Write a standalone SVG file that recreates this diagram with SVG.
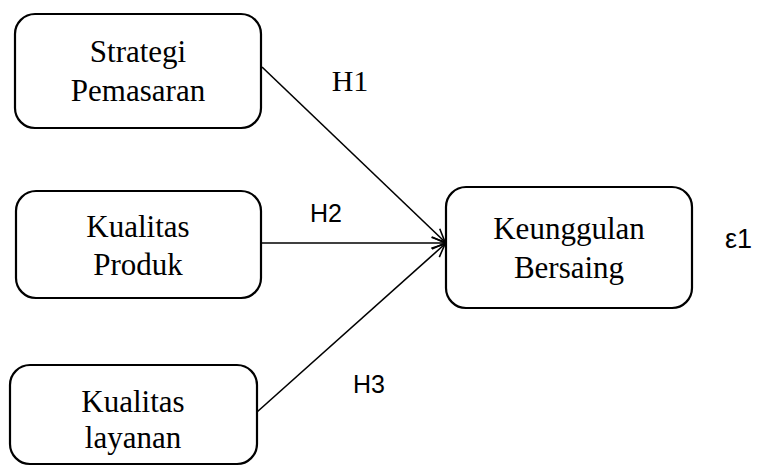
<svg xmlns="http://www.w3.org/2000/svg" width="757" height="466" viewBox="0 0 757 466">
<style>
.box{fill:#fff;stroke:#000;stroke-width:2.2}
.t{font-family:"Liberation Serif","Times New Roman",serif;font-size:31px;fill:#000;text-anchor:middle}
.s{font-family:"Liberation Sans",Arial,sans-serif;font-size:25px;fill:#000}
.c{stroke:#000;stroke-width:1.6;fill:none}
</style>
<defs>
<marker id="arr" markerWidth="16" markerHeight="16" refX="14" refY="8" orient="auto" markerUnits="userSpaceOnUse">
<path d="M1,2 L14,8 L1,14" fill="none" stroke="#000" stroke-width="1.6"/>
</marker>
</defs>
<rect width="757" height="466" fill="#fff"/>
<g id="connectors">
<line class="c" x1="262" y1="67" x2="445" y2="242" marker-end="url(#arr)"/>
<line class="c" x1="261" y1="243" x2="445" y2="243" marker-end="url(#arr)"/>
<line class="c" x1="257" y1="412" x2="445" y2="244" marker-end="url(#arr)"/>
<text class="t" x="350" y="91" style="font-size:30px">H1</text>
<text class="s" x="310" y="222">H2</text>
<text class="s" x="353" y="393">H3</text>
</g>
<g id="strategi">
<rect class="box" x="15" y="14" width="246" height="114" rx="20"/>
<text class="t" x="138" y="62">Strategi</text>
<text class="t" x="138" y="101">Pemasaran</text>
</g>
<g id="produk">
<rect class="box" x="16" y="191" width="245" height="107" rx="20"/>
<text class="t" x="138" y="237">Kualitas</text>
<text class="t" x="138" y="275">Produk</text>
</g>
<g id="layanan">
<rect class="box" x="10" y="365" width="247" height="99" rx="20"/>
<text class="t" x="133" y="412">Kualitas</text>
<text class="t" x="133" y="448">layanan</text>
</g>
<g id="keunggulan">
<rect class="box" x="446" y="187" width="246" height="121" rx="20"/>
<text class="t" x="569" y="239">Keunggulan</text>
<text class="t" x="569" y="278">Bersaing</text>
</g>
<g id="error">
<text class="s" x="725" y="248" style="font-size:27px">ε1</text>
</g>
</svg>
